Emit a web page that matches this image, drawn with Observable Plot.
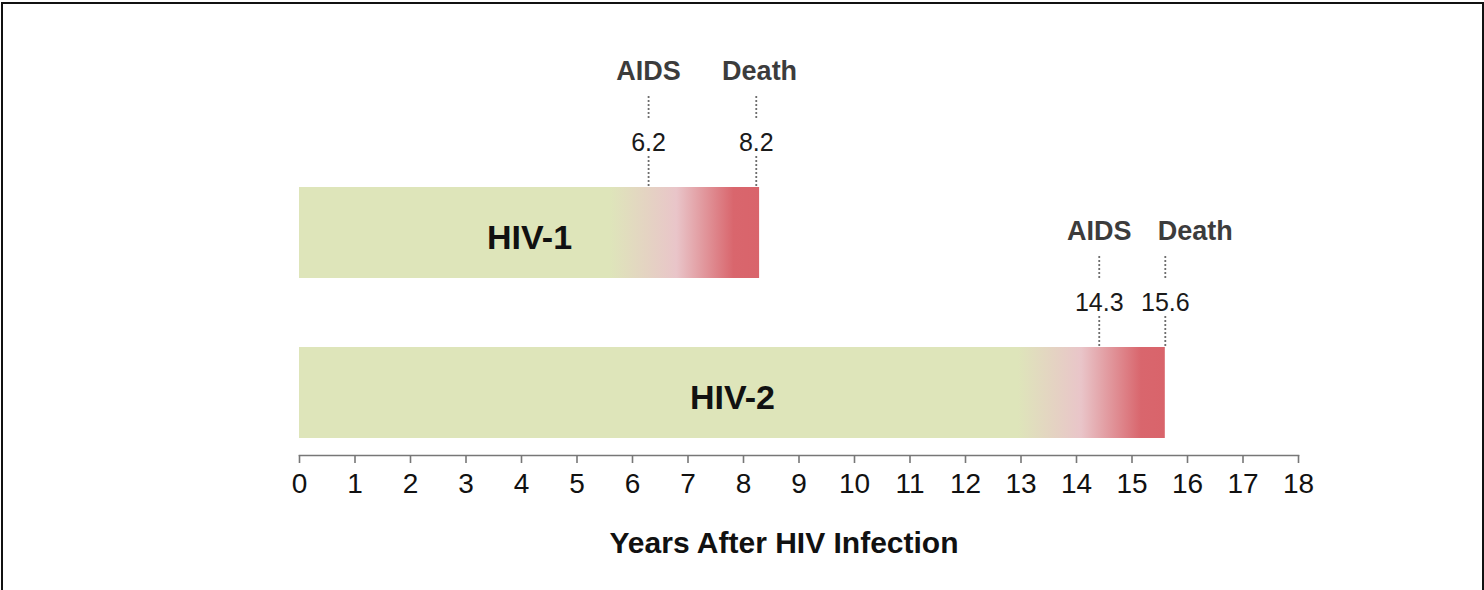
<!DOCTYPE html>
<html><head><meta charset="utf-8">
<script src="https://cdn.jsdelivr.net/npm/d3@7"></script>
<script src="https://cdn.jsdelivr.net/npm/@observablehq/plot@0.6"></script>
<style>
html,body{margin:0;padding:0;background:#fff;overflow:hidden;width:1484px;height:590px;}
#chart{position:absolute;left:0;top:0;}
#frame{position:absolute;left:1px;top:2px;width:1479px;height:700px;border:2px solid #111;pointer-events:none;}
</style></head><body>
<div id="chart"></div><div id="frame"></div>
<script>
// ---- data ----
const series = ["HIV-1", "HIV-2"];
const barEnd = [8.29, 15.6];          // years, end of bar
const aidsAt = [6.29, 14.41];         // position of AIDS marker
const deathAt = [8.23, 15.6];         // position of Death marker
const aidsText = ["6.2", "14.3"];     // printed values
const deathText = ["8.2", "15.6"];
const deathLabelAt = [8.29, 16.14];   // where the "Death" word sits
const fadeFrom = [5.6, 12.95];        // colour fade: green ends
const fadeMid = [6.8, 14.09];         // palest pink
const fadeTo = [7.83, 15.17];         // full red
const eventNames = ["AIDS", "Death"];
const xTicks = [0, 1, 2, 3, 4, 5, 6, 7, 8, 9, 10, 11, 12, 13, 14, 15, 16, 17, 18];
const xLabel = "Years After HIV Infection";

const rows = series.map((s, i) => ({series: s, end: barEnd[i], i}));
const events = series.flatMap((s, i) => [
  {series: s, name: eventNames[0], x: aidsAt[i], value: aidsText[i], labelX: aidsAt[i]},
  {series: s, name: eventNames[1], x: deathAt[i], value: deathText[i], labelX: deathLabelAt[i]}
]);

const dotted = {stroke: "#6e6e6e", strokeWidth: 1.8, strokeDasharray: "2,2"};

const svg = Plot.plot({
  width: 1484,
  height: 590,
  marginLeft: 299,
  marginRight: 186,
  marginTop: 0,
  marginBottom: 135,
  x: {domain: [0, 18]},
  y: {type: "band", domain: series, range: [187, 438], paddingInner: 0.43125, paddingOuter: 0, axis: null},
  style: {fontFamily: "'Liberation Sans', Arial, Helvetica, sans-serif", background: "white", overflow: "visible"},
  marks: [
    Plot.barX(rows, {x: "end", y: "series", fill: "#dee5ba"}),
    Plot.tickX(events, {x: "x", y: "series", dy: -31, insetBottom: 60, ...dotted}),
    Plot.tickX(events, {x: "x", y: "series", dy: -91, insetBottom: 68, ...dotted}),
    Plot.text(events, {x: "x", y: "series", text: "value", lineAnchor: "bottom", dy: -82, fontSize: 25, fill: "#1a1a1a"}),
    Plot.text(events, {x: "labelX", y: "series", text: "name", lineAnchor: "bottom", dy: -153.5, fontSize: 27, fontWeight: "bold", fill: "#3c3c3c"}),
    Plot.text(rows, {x: d => d.end / 2, y: "series", text: "series", dy: 5, fontSize: 34, fontWeight: "bold", fill: "#111"}),
    Plot.frame({anchor: "bottom", stroke: "#777", strokeWidth: 1.6}),
    Plot.axisX({ticks: xTicks, tickFormat: d => String(d), tickSize: 8, tickPadding: 10, fontSize: 28, label: null, stroke: "#777", strokeWidth: 1.6, fill: "#111"}),
    Plot.text([xLabel], {text: d => d, frameAnchor: "bottom", lineAnchor: "bottom", dy: 97, dx: -15, fontSize: 30, fontWeight: "bold", fill: "#111"})
  ]
});

// gradient fills for the bars (offsets relative to each bar's length)
const root = d3.select(svg);
const defs = root.insert("defs", ":first-child");
rows.forEach((r, i) => {
  const g = defs.append("linearGradient").attr("id", "fade" + i)
    .attr("x1", 0).attr("x2", 1).attr("y1", 0).attr("y2", 0);
  const stops = [
    [0, "#dee5ba"],
    [fadeFrom[i] / r.end, "#dee5ba"],
    [fadeMid[i] / r.end, "#e9c5c9"],
    [fadeTo[i] / r.end, "#d9666d"],
    [1, "#d9646b"]
  ];
  stops.forEach(([o, c]) => g.append("stop").attr("offset", o).attr("stop-color", c));
});
root.selectAll('g[aria-label="bar"] rect').attr("fill", (d, i) => `url(#fade${i})`);

document.getElementById("chart").appendChild(svg);
</script>
</body></html>
